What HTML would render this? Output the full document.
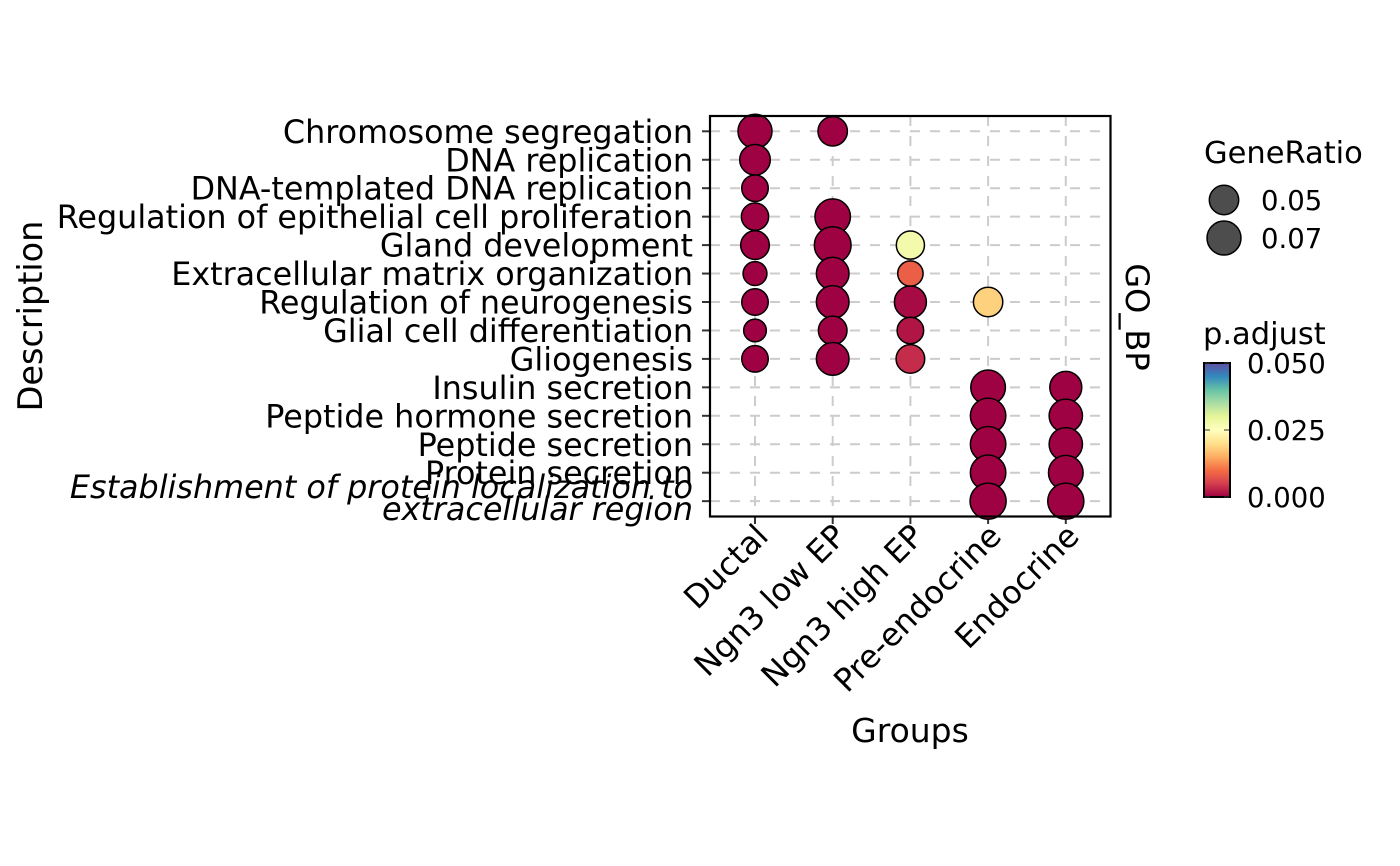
<!DOCTYPE html>
<html><head><meta charset="utf-8"><style>
body{margin:0;background:#fff}
svg{display:block;font-family:"DejaVu Sans","Liberation Sans",sans-serif}
</style></head><body>
<svg id="chart" width="1400" height="866" viewBox="0 0 1400 866">
<rect width="1400" height="866" fill="#fff"/>
<g id="grid"></g>
<g id="dots"></g>
<rect x="710" y="116" width="400.5" height="400.5" fill="none" stroke="#000" stroke-width="2.2"/>
<g id="ylabels"></g>
<g id="xlabels"></g>
<text x="30" y="316" transform="rotate(-90 30 316)" text-anchor="middle" font-size="33.5" dy="12">Description</text>
<text x="910" y="742" text-anchor="middle" font-size="33">Groups</text>
<text x="1124" y="317" transform="rotate(90 1124 317)" text-anchor="middle" font-size="32" dy="-2">GO_BP</text>
<g>
<text x="1204" y="163" font-size="30.5">GeneRatio</text>
<g id="sizeLegend"></g>
</g>
<g>
<text x="1203" y="344" font-size="30.5">p.adjust</text>
<defs><linearGradient id="spec" x1="0" y1="1" x2="0" y2="0">
<stop offset="0" stop-color="#9E0142"/><stop offset="0.1" stop-color="#D53E4F"/><stop offset="0.2" stop-color="#F46D43"/><stop offset="0.3" stop-color="#FDAE61"/><stop offset="0.4" stop-color="#FEE08B"/><stop offset="0.5" stop-color="#FFFFBF"/><stop offset="0.6" stop-color="#E6F598"/><stop offset="0.7" stop-color="#ABDDA4"/><stop offset="0.8" stop-color="#66C2A5"/><stop offset="0.9" stop-color="#3288BD"/><stop offset="1" stop-color="#5E4FA2"/>
</linearGradient></defs>
<rect x="1204" y="363" width="26" height="134" fill="url(#spec)" stroke="#000" stroke-width="2"/>
<g id="cbTicks"></g>
</g>
</svg>
<script>
const groups=["Ductal","Ngn3 low EP","Ngn3 high EP","Pre-endocrine","Endocrine"];
const terms=["Chromosome segregation","DNA replication","DNA-templated DNA replication","Regulation of epithelial cell proliferation","Gland development","Extracellular matrix organization","Regulation of neurogenesis","Glial cell differentiation","Gliogenesis","Insulin secretion","Peptide hormone secretion","Peptide secretion","Protein secretion","Establishment of protein localization to extracellular region"];
const ptGroup=[0,0,0,0,0,0,0,0,0, 1,1,1,1,1,1,1, 2,2,2,2,2, 3,3,3,3,3,3, 4,4,4,4,4];
const ptTerm=[0,1,2,3,4,5,6,7,8, 0,3,4,5,6,7,8, 4,5,6,7,8, 6,9,10,11,12,13, 9,10,11,12,13];
const geneRatio=[0.070,0.055,0.039,0.042,0.047,0.030,0.039,0.026,0.039, 0.050,0.077,0.083,0.064,0.064,0.047,0.064, 0.045,0.035,0.061,0.039,0.047, 0.050,0.073,0.077,0.077,0.077,0.080, 0.061,0.067,0.067,0.073,0.080];
const pAdjust=[0.0001,0.0001,0.0001,0.0001,0.0001,0.0001,0.0001,0.0001,0.0001, 0.0001,0.0001,0.0001,0.0001,0.0001,0.0001,0.0001, 0.0275,0.0085,0.0008,0.0016,0.0035, 0.0185,0.0001,0.0001,0.0001,0.0001,0.0001, 0.0001,0.0001,0.0001,0.0001,0.0001];
const sizeBreaks=[0.05,0.07];
const colorTicks=[0.050,0.025,0.000];

const NS="http://www.w3.org/2000/svg";
function mk(t,a,p){const e=document.createElementNS(NS,t);for(const k in a)e.setAttribute(k,a[k]);p.appendChild(e);return e;}
const x0=755,dx=77.7,y0=131.3,dy=28.45;
const xS=i=>x0+i*dx, yS=j=>y0+j*dy;
const rS=g=>Math.sqrt(33.5+3650*g);
const cb0=497,cb1=363,pS=p=>cb0+(cb1-cb0)*p/0.05;
const spec=["#9E0142","#D53E4F","#F46D43","#FDAE61","#FEE08B","#FFFFBF","#E6F598","#ABDDA4","#66C2A5","#3288BD","#5E4FA2"];
function col(p){let t=Math.max(0,Math.min(1,p/0.05))*10;let i=Math.min(9,Math.floor(t)),f=t-i;
 const a=spec[i],b=spec[i+1];const h=(s,k)=>parseInt(s.substr(1+2*k,2),16);
 return "rgb("+[0,1,2].map(k=>Math.round(h(a,k)+(h(b,k)-h(a,k))*f)).join(",")+")";}
const grid=document.getElementById('grid');
groups.forEach((g,i)=>{const l=mk('line',{x1:xS(i),x2:xS(i),y1:116,y2:516.5,stroke:'#cccccc','stroke-width':2,'stroke-dasharray':'10,10'},grid);


const tk=mk('line',{x1:xS(i),x2:xS(i),y1:517,y2:524,stroke:'#333','stroke-width':2},grid);

});
terms.forEach((t,j)=>{const l=mk('line',{x1:710,x2:1110,y1:yS(j),y2:yS(j),stroke:'#cccccc','stroke-width':2,'stroke-dasharray':'10,10'},grid);


const tk=mk('line',{x1:702,x2:709,y1:yS(j),y2:yS(j),stroke:'#333','stroke-width':2},grid);

});
const dots=document.getElementById('dots');
ptGroup.forEach((gi,k)=>{const c=mk('circle',{cx:xS(gi),cy:yS(ptTerm[k]),r:rS(geneRatio[k]),fill:col(pAdjust[k]),stroke:'#000','stroke-width':1.5},dots);

});
const FS=31.8;
const yl=document.getElementById('ylabels');
terms.forEach((t,j)=>{
 if(j===terms.length-1){
  const e=mk('text',{x:693,y:yS(j)+1,'text-anchor':'end','font-size':FS,'font-style':'italic'},yl);
  mk('tspan',{x:693,dy:-4},e).textContent="Establishment of protein localization to";
  mk('tspan',{x:693,dy:22},e).textContent="extracellular region";
  
  
 } else {
  const e=mk('text',{x:693,y:yS(j)+11.5,'text-anchor':'end','font-size':FS},yl);e.textContent=t;
  
  
 }});
const xl=document.getElementById('xlabels');
groups.forEach((g,i)=>{const x=xS(i)+15,y=538;const e=mk('text',{x:x,y:y,'text-anchor':'end','font-size':FS,transform:`rotate(-45 ${x} ${y})`},xl);e.textContent=g;

});
const sl=document.getElementById('sizeLegend');
sizeBreaks.forEach((b,i)=>{const cy=200+i*38;const c=mk('circle',{cx:1224,cy:cy,r:rS(b),fill:'#4d4d4d',stroke:'#000','stroke-width':1.5},sl);


const t=mk('text',{x:1261,y:cy+10,'font-size':27.5},sl);t.textContent=b.toFixed(2);

});
const cb=document.getElementById('cbTicks');
colorTicks.forEach(v=>{const y=pS(v);
const l1=mk('line',{x1:1205,x2:1210,y1:y,y2:y,stroke:'#333','stroke-width':1},cb);


const l2=mk('line',{x1:1224,x2:1229,y1:y,y2:y,stroke:'#333','stroke-width':1},cb);


const t=mk('text',{x:1247,y:y+10,'font-size':27.5},cb);t.textContent=v.toFixed(3);

});
</script>
</body></html>
